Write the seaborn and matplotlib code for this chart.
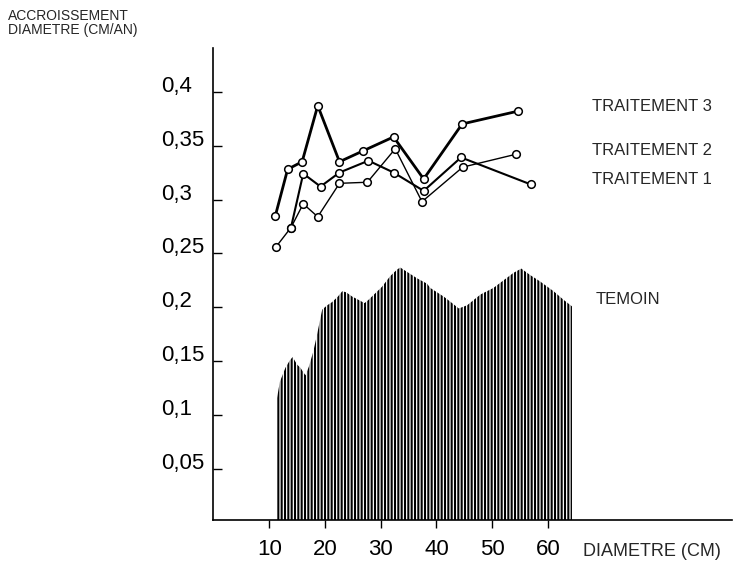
import seaborn as sns
import matplotlib.pyplot as plt

# accroissement en diametre (cm/an) selon le diametre (cm)
t3_x = [11.1, 13.3, 15.9, 18.7, 22.6, 26.8, 32.3, 37.7, 44.6, 54.7]
t3_y = [0.285, 0.328, 0.335, 0.387, 0.335, 0.345, 0.358, 0.319, 0.370, 0.382]

t2_x = [11.2, 13.9, 16.1, 18.7, 22.6, 27.6, 32.6, 37.4, 44.7, 54.3]
t2_y = [0.256, 0.274, 0.296, 0.284, 0.315, 0.316, 0.347, 0.298, 0.330, 0.342]

t1_x = [13.9, 16.1, 19.2, 22.6, 27.8, 32.3, 37.7, 44.4, 56.9]
t1_y = [0.274, 0.324, 0.312, 0.325, 0.336, 0.325, 0.308, 0.339, 0.314]

# profil du temoin (zone hachuree)
temoin_x = [11.4, 11.9, 12.9, 13.7, 14.2, 15.0, 15.6, 16.5, 17.1, 17.9, 18.5,
            19.1, 19.5, 20.4, 21.3, 22.3, 23.1, 23.8, 24.9, 26.0, 27.1, 27.8,
            29.0, 30.2, 31.7, 32.9, 33.5, 34.7, 36.5, 38.3, 38.9, 41.3, 42.8,
            44.0, 45.5, 47.9, 50.2, 52.0, 53.8, 55.2, 56.8, 58.6, 61.0, 62.8,
            64.3]
temoin_y = [0.116, 0.131, 0.144, 0.151, 0.154, 0.147, 0.144, 0.137, 0.145,
            0.159, 0.173, 0.188, 0.198, 0.202, 0.205, 0.210, 0.215, 0.214,
            0.210, 0.207, 0.204, 0.207, 0.213, 0.219, 0.229, 0.235, 0.237,
            0.233, 0.227, 0.222, 0.218, 0.210, 0.204, 0.199, 0.202, 0.212,
            0.218, 0.225, 0.232, 0.236, 0.230, 0.224, 0.215, 0.207, 0.201]

x_ticks = [10, 20, 30, 40, 50, 60]
y_ticks = [0.05, 0.1, 0.15, 0.2, 0.25, 0.3, 0.35, 0.4]
y_labels = ['0,05', '0,1', '0,15', '0,2', '0,25', '0,3', '0,35', '0,4']

sns.set_style('ticks')
plt.rcParams['font.family'] = ['Liberation Sans', 'DejaVu Sans']
plt.rcParams['hatch.linewidth'] = 1.5

fig = plt.figure(figsize=(7.48, 5.61), dpi=100)
ax = fig.add_axes([0.2854, 0.0722, 0.6932, 0.8422])

ax.fill_between(temoin_x, 0, temoin_y, facecolor='white', edgecolor='black',
                hatch='|||||', linewidth=0)

for xs, ys, lw in [(t3_x, t3_y, 2.0), (t2_x, t2_y, 1.0), (t1_x, t1_y, 1.5)]:
    sns.lineplot(x=xs, y=ys, ax=ax, color='black', linewidth=lw, marker='o',
                 markersize=5.5, markerfacecolor='white',
                 markeredgecolor='black', markeredgewidth=1.1)

ax.set_xlim(0, 93)
ax.set_ylim(0.0025, 0.4404)
ax.set_xticks(x_ticks)
ax.set_xticklabels([str(v) for v in x_ticks], fontsize=16)
ax.set_yticks(y_ticks)
ax.set_yticklabels(y_labels, fontsize=16, ha='left', va='baseline')
ax.tick_params(axis='y', direction='in', length=6.5, width=1, pad=38,
               colors='black')
ax.tick_params(axis='x', direction='out', length=6, width=1, pad=7,
               colors='black')

sns.despine(ax=ax)
for side in ['left', 'bottom']:
    ax.spines[side].set_linewidth(1.2)
    ax.spines[side].set_color('black')

# etiquettes des courbes
ax.text(67.9, 0.386, 'TRAITEMENT 3', fontsize=12, va='center')
ax.text(67.9, 0.345, 'TRAITEMENT 2', fontsize=12, va='center')
ax.text(67.9, 0.319, 'TRAITEMENT 1', fontsize=12, va='center')
ax.text(68.6, 0.207, 'TEMOIN', fontsize=12, va='center')

fig.text(8 / 748, 1 - 16 / 561, 'ACCROISSEMENT', fontsize=10, va='center')
fig.text(8 / 748, 1 - 30 / 561, 'DIAMETRE (CM/AN)', fontsize=10, va='center')
fig.text(583 / 748, 1 - 551 / 561, 'DIAMETRE (CM)', fontsize=13, va='center')

fig.savefig('out.png', dpi=100)
